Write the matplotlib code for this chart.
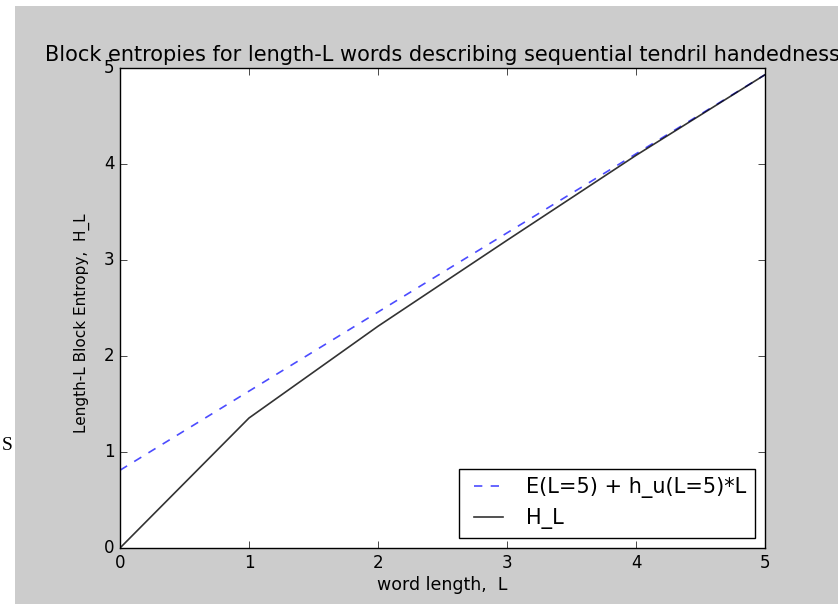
import matplotlib
matplotlib.use('Agg')
from matplotlib import pyplot as plt
from matplotlib.patches import Rectangle
import numpy as np

# word lengths and block entropies
L = [0, 1, 2, 3, 4, 5]
H_L = [0.0, 1.354, 2.31, 3.205, 4.09, 4.93]
E5 = 0.81     # excess entropy estimate at L=5
h5 = 0.824    # entropy rate estimate at L=5

plt.style.use('classic')
fig = plt.figure(figsize=(8.38, 6.04), dpi=100, facecolor='white')
# grey figure panel, leaving a thin white strip at left and top
fig.patches.append(Rectangle((15 / 838, 0), 1, 598 / 604, transform=fig.transFigure,
                             facecolor='#cccccc', edgecolor='none', zorder=-1))
fig.text(1.5 / 838, 1 - 446 / 604, 'S', family='Liberation Serif', fontsize=14, va='center')

ax = fig.add_axes([120 / 838, 1 - 548 / 604, 645 / 838, 480 / 604])
x = np.array(L)
ax.plot(x, E5 + h5 * x, '--', color='b', alpha=0.7, linewidth=1.2, label='E(L=5) + h_u(L=5)*L')
ax.plot(L, H_L, '-', color='k', alpha=0.8, linewidth=1.2, label='H_L')

ax.set_xlim(0, 5)
ax.set_ylim(0, 5)
ax.set_xticks([0, 1, 2, 3, 4, 5])
ax.set_yticks([0, 1, 2, 3, 4, 5])
ax.tick_params(labelsize=12, length=5, direction='in', top=True, right=True)
ax.set_title('Block entropies for length-L words describing sequential tendril handedness',
             fontsize=15, pad=5)
ax.set_xlabel('word length,  L', fontsize=12.5, labelpad=3)
ax.set_ylabel('Length-L Block Entropy,  H_L', fontsize=11)
ax.yaxis.set_label_coords(-0.047, 0.469)
ax.legend(loc='lower right', fontsize=15, numpoints=2, fancybox=False, borderaxespad=0.5)

fig.savefig('out.png', dpi=100, facecolor=fig.get_facecolor())
